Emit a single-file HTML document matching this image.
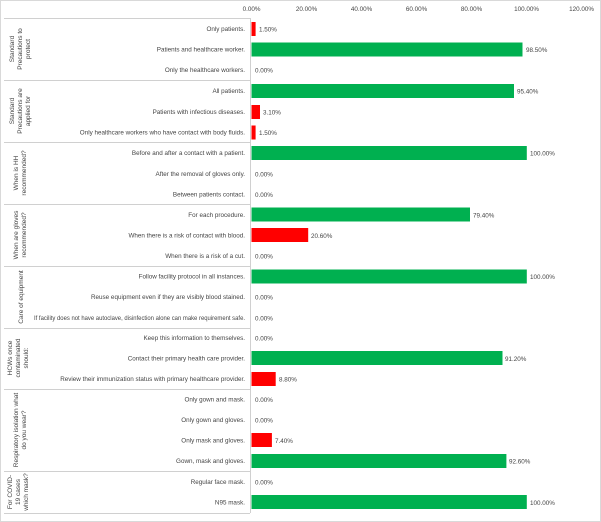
<!DOCTYPE html>
<html><head><style>
body{margin:0;background:#fff}
svg{display:block}
text{font-family:"Liberation Sans",sans-serif;fill:#444}
</style></head><body>
<svg width="601" height="522" viewBox="0 0 601 522" xmlns="http://www.w3.org/2000/svg">
<rect x="0.5" y="0.5" width="600" height="521" fill="#fff" stroke="#d9d9d9"/>
<g font-size="6.3" text-anchor="middle">
<text x="251.5" y="11">0.00%</text>
<text x="306.5" y="11">20.00%</text>
<text x="361.5" y="11">40.00%</text>
<text x="416.5" y="11">60.00%</text>
<text x="471.5" y="11">80.00%</text>
<text x="526.5" y="11">100.00%</text>
<text x="581.5" y="11">120.00%</text>
</g>
<g stroke="#d0d0d0" stroke-width="1">
<line x1="250.5" y1="18" x2="250.5" y2="513"/>
<line x1="4" y1="18.5" x2="250" y2="18.5"/>
<line x1="4" y1="80.5" x2="250" y2="80.5"/>
<line x1="4" y1="142.5" x2="250" y2="142.5"/>
<line x1="4" y1="204.5" x2="250" y2="204.5"/>
<line x1="4" y1="266.5" x2="250" y2="266.5"/>
<line x1="4" y1="328.5" x2="250" y2="328.5"/>
<line x1="4" y1="389.5" x2="250" y2="389.5"/>
<line x1="4" y1="471.5" x2="250" y2="471.5"/>
<line x1="4" y1="513.5" x2="250" y2="513.5"/>
</g>
<g font-size="6.5" text-anchor="middle">
<text transform="translate(14,49) rotate(-90)">Standard</text>
<text transform="translate(22,49) rotate(-90)">Precautions to</text>
<text transform="translate(30,49) rotate(-90)">protect</text>
<text transform="translate(14,111) rotate(-90)">Standard</text>
<text transform="translate(22,111) rotate(-90)">Precautions are</text>
<text transform="translate(30,111) rotate(-90)">applied for</text>
<text transform="translate(18,173) rotate(-90)">When is HH</text>
<text transform="translate(26,173) rotate(-90)">recommended?</text>
<text transform="translate(18,235) rotate(-90)">When are gloves</text>
<text transform="translate(26,235) rotate(-90)">recommended?</text>
<text transform="translate(23,297) rotate(-90)">Care of equipment</text>
<text transform="translate(12,358) rotate(-90)">HCWs once</text>
<text transform="translate(20,358) rotate(-90)">contaminated</text>
<text transform="translate(28,358) rotate(-90)">should:</text>
<text transform="translate(18,430) rotate(-90)">Respiratory isolation what</text>
<text transform="translate(26,430) rotate(-90)">do you wear?</text>
<text transform="translate(12,492) rotate(-90)">For COVID-</text>
<text transform="translate(20,492) rotate(-90)">19 cases</text>
<text transform="translate(28,492) rotate(-90)">which mask?</text>
</g>
<g font-size="6.3" text-anchor="end">
<text x="245" y="31">Only patients.</text>
<text x="245" y="51.5">Patients and healthcare worker.</text>
<text x="245" y="72">Only the healthcare workers.</text>
<text x="245" y="93">All patients.</text>
<text x="245" y="114">Patients with infectious diseases.</text>
<text x="245" y="134.5">Only healthcare workers who have contact with body fluids.</text>
<text x="245" y="155">Before and after a contact with a patient.</text>
<text x="245" y="176">After the removal of gloves only.</text>
<text x="245" y="196.5">Between patients contact.</text>
<text x="245" y="217">For each procedure.</text>
<text x="245" y="237.5">When there is a risk of contact with blood.</text>
<text x="245" y="258">When there is a risk of a cut.</text>
<text x="245" y="278.5">Follow facility protocol in all instances.</text>
<text x="245" y="299">Reuse equipment even if they are visibly blood stained.</text>
<text x="245" y="340">Keep this information to themselves.</text>
<text x="245" y="360.5">Contact their primary health care provider.</text>
<text x="245" y="381">Review their immunization status with primary healthcare provider.</text>
<text x="245" y="401.5">Only gown and mask.</text>
<text x="245" y="422">Only gown and gloves.</text>
<text x="245" y="442.5">Only mask and gloves.</text>
<text x="245" y="463">Gown, mask and gloves.</text>
<text x="245" y="484">Regular face mask.</text>
<text x="245" y="504.5">N95 mask.</text>
</g>
<text x="34" y="320" font-size="6" textLength="211" lengthAdjust="spacingAndGlyphs">If facility does not have autoclave, disinfection alone can make requirement safe.</text>
<g>
<rect x="251.5" y="22" width="4.1" height="14" fill="#ff0000"/>
<rect x="251.5" y="42.5" width="271" height="14" fill="#00b050"/>
<rect x="251.5" y="84" width="262.5" height="14" fill="#00b050"/>
<rect x="251.5" y="105" width="8.5" height="14" fill="#ff0000"/>
<rect x="251.5" y="125.5" width="4.1" height="14" fill="#ff0000"/>
<rect x="251.5" y="146" width="275.3" height="14" fill="#00b050"/>
<rect x="251.5" y="207.5" width="218.5" height="14" fill="#00b050"/>
<rect x="251.5" y="228" width="56.7" height="14" fill="#ff0000"/>
<rect x="251.5" y="269.5" width="275.3" height="14" fill="#00b050"/>
<rect x="251.5" y="351" width="251" height="14" fill="#00b050"/>
<rect x="251.5" y="372" width="24.2" height="14" fill="#ff0000"/>
<rect x="251.5" y="433" width="20.4" height="14" fill="#ff0000"/>
<rect x="251.5" y="454" width="254.9" height="14" fill="#00b050"/>
<rect x="251.5" y="495" width="275.3" height="14" fill="#00b050"/>
</g>
<g font-size="6.3">
<text x="259" y="31.5">1.50%</text>
<text x="526" y="52">98.50%</text>
<text x="255" y="72.5">0.00%</text>
<text x="517" y="93.5">95.40%</text>
<text x="263" y="114.5">3.10%</text>
<text x="259" y="135">1.50%</text>
<text x="530" y="155.5">100.00%</text>
<text x="255" y="176.5">0.00%</text>
<text x="255" y="197">0.00%</text>
<text x="473" y="217.5">79.40%</text>
<text x="311" y="238">20.60%</text>
<text x="255" y="258.5">0.00%</text>
<text x="530" y="279">100.00%</text>
<text x="255" y="299.5">0.00%</text>
<text x="255" y="320.5">0.00%</text>
<text x="255" y="340.5">0.00%</text>
<text x="505" y="361">91.20%</text>
<text x="279" y="381.5">8.80%</text>
<text x="255" y="402">0.00%</text>
<text x="255" y="422.5">0.00%</text>
<text x="275" y="443">7.40%</text>
<text x="509" y="463.5">92.60%</text>
<text x="255" y="484.5">0.00%</text>
<text x="530" y="505">100.00%</text>
</g>
</svg>
</body></html>
